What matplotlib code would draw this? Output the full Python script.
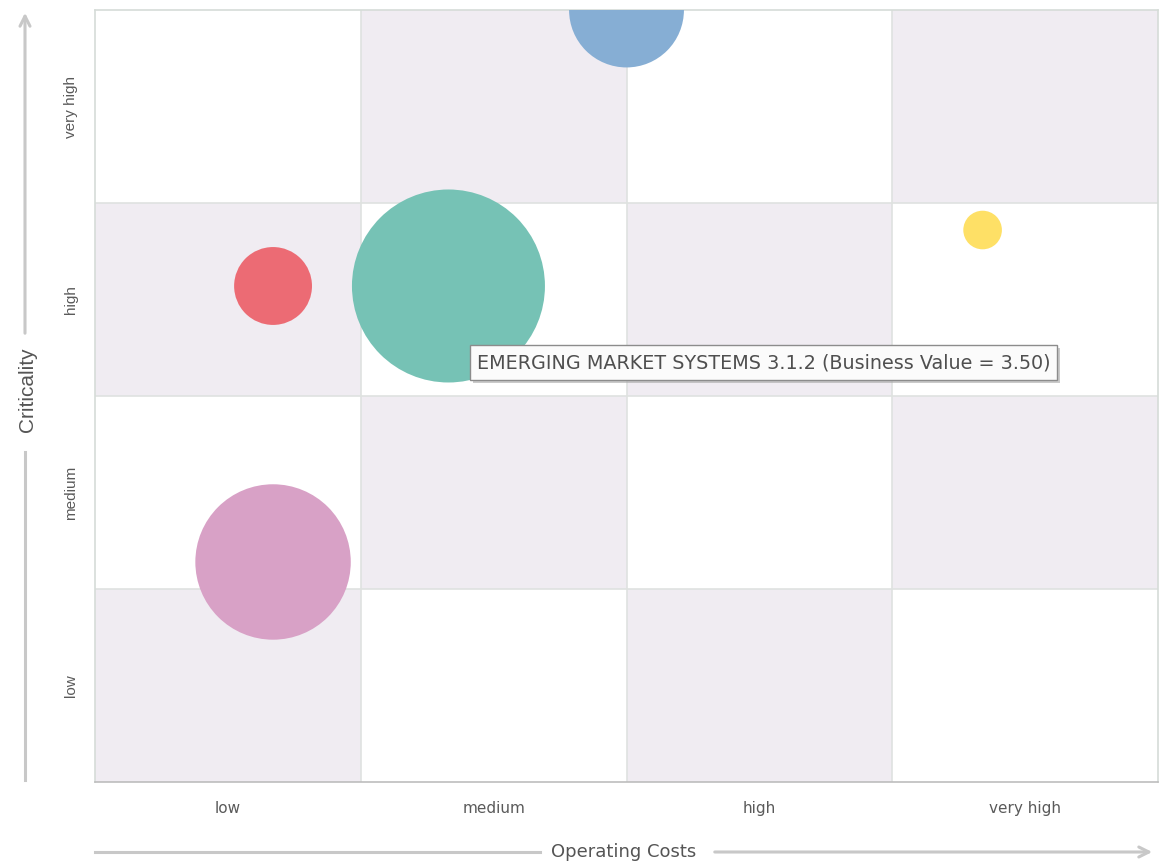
import numpy as np
import matplotlib.pyplot as plt
from matplotlib.patches import Rectangle

# categories on both axes
cost_labels = ['low', 'medium', 'high', 'very high']
crit_labels = ['low', 'medium', 'high', 'very high']

# bubbles: operating costs (x), criticality (y), business value (size)
op_costs = [2.00, 0.67, 1.33, 3.34, 0.67]
criticality = [4.00, 2.57, 2.57, 2.86, 1.14]
business_value = [1.24, 0.57, 3.50, 0.14, 2.27]
colors = ['#86aed4', '#ec6b74', '#76c2b5', '#fee066', '#d8a1c6']

tooltip = 'EMERGING MARKET SYSTEMS 3.1.2 (Business Value = 3.50)'

W, H = 1160, 863
fig = plt.figure(figsize=(W / 100, H / 100), dpi=100)
ax = fig.add_axes([95 / W, 1 - 782 / H, 1063 / W, 772 / H])

# checkerboard background
for i in range(len(cost_labels)):
    for j in range(len(crit_labels)):
        fc = '#f0ecf2' if (i + j) % 2 == 0 else 'white'
        ax.add_patch(Rectangle((i, j), 1, 1, facecolor=fc, edgecolor='none', zorder=0))
for k in range(1, 4):
    ax.axvline(k, color='#dfe2e0', lw=1.2, zorder=1)
    ax.axhline(k, color='#dfe2e0', lw=1.2, zorder=1)

# bubble radius in pixels, area proportional to business value
r_px = 96.5 * np.sqrt(np.array(business_value) / 3.5)
sizes = (2 * r_px * 72 / 100) ** 2
ax.scatter(op_costs, criticality, s=sizes, c=colors, edgecolors='none', zorder=3)

ax.set_xlim(0, 4)
ax.set_ylim(0, 4)
ax.set_xticks(np.arange(4) + 0.5)
ax.set_xticklabels(cost_labels, fontsize=11, color='#5a5a5a', family='DejaVu Sans')
ax.set_yticks(np.arange(4) + 0.5)
ax.set_yticklabels(crit_labels, fontsize=11, color='#5a5a5a', family='Liberation Sans',
                   rotation=90, va='center')
ax.tick_params(length=0)
ax.tick_params(axis='x', pad=14)
ax.tick_params(axis='y', pad=12)
for s in ax.spines.values():
    s.set_color('#d6dcd8')
    s.set_linewidth(1.2)
ax.spines['bottom'].set_color('#bdbdbd')

# axis titles with arrows
def fx(px):
    return px / W

def fy(py):
    return 1 - py / H

arrow_kw = dict(arrowstyle='->', color='#c8c8c8', lw=2.2, mutation_scale=18)
fig.add_artist(plt.Line2D([fx(95), fx(540)], [fy(852), fy(852)], color='#c8c8c8', lw=2.2))
ax.annotate('', xy=(fx(1155), fy(852)), xytext=(fx(712), fy(852)),
            xycoords='figure fraction', textcoords='figure fraction', arrowprops=arrow_kw)
fig.text(fx(624), fy(852), 'Operating Costs', ha='center', va='center',
         fontsize=13, color='#555555', family='DejaVu Sans')

fig.add_artist(plt.Line2D([fx(25), fx(25)], [fy(780), fy(452)], color='#c8c8c8', lw=2.2))
ax.annotate('', xy=(fx(25), fy(10)), xytext=(fx(25), fy(336)),
            xycoords='figure fraction', textcoords='figure fraction', arrowprops=arrow_kw)
fig.text(fx(27), fy(390), 'Criticality', ha='center', va='center', rotation=90,
         fontsize=15, color='#555555', family='Liberation Sans')

# tooltip box
fig.add_artist(Rectangle((fx(473), fy(383)), fx(587), 35 / H, transform=fig.transFigure,
                         facecolor='#a8a8a8', edgecolor='none', alpha=0.6, zorder=5))
fig.add_artist(Rectangle((fx(470), fy(380)), fx(587), 35 / H, transform=fig.transFigure,
                         facecolor='#fbfbfb', edgecolor='#8c8c8c', lw=1, zorder=6))
fig.text(fx(477), fy(363), tooltip, ha='left', va='center', fontsize=13.8,
         color='#4f4f4f', family='DejaVu Sans', zorder=7)

plt.savefig('out.png', dpi=100)
